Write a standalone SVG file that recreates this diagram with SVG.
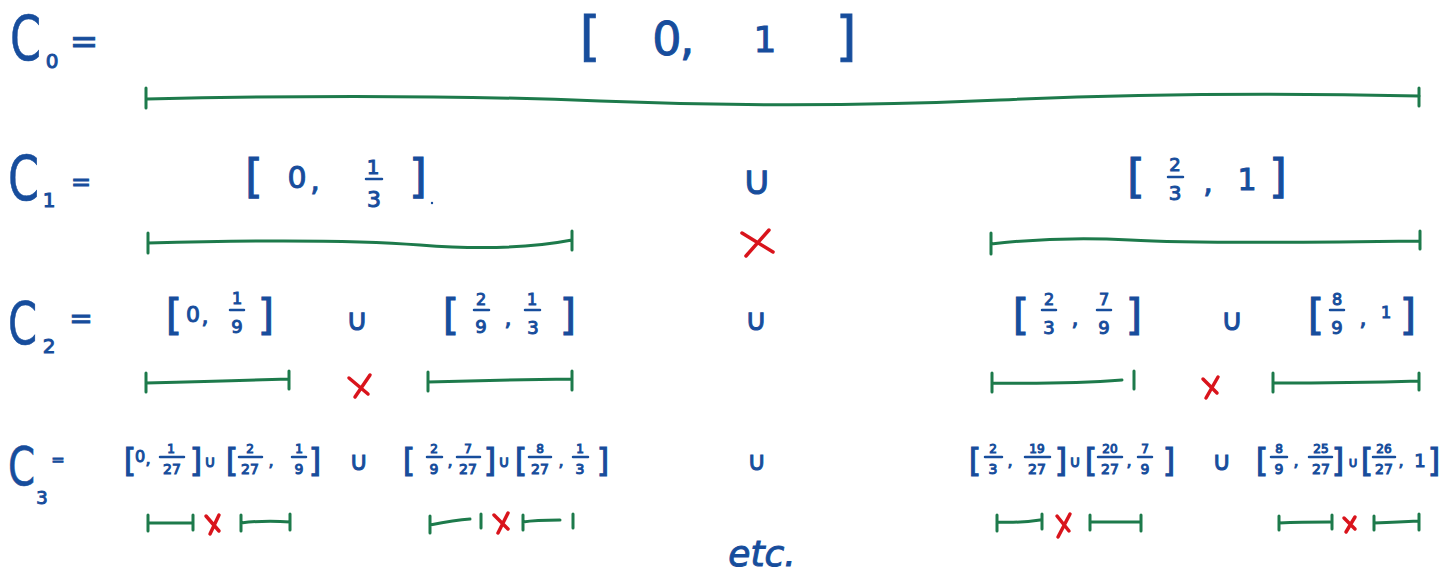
<svg xmlns="http://www.w3.org/2000/svg" width="1455" height="582" viewBox="0 0 1455 582">
<style>
.t{font-family:"DejaVu Sans","Liberation Sans",sans-serif;fill:#174d9c;stroke:#174d9c;stroke-width:1;text-anchor:middle}
.c{font-family:"DejaVu Sans","Liberation Sans",sans-serif;fill:#174d9c;stroke:#174d9c;stroke-width:0.6;text-anchor:start}
.fb{stroke:#174d9c;stroke-width:2.5;stroke-linecap:round}
.g{stroke:#1d7a4b;stroke-width:3;fill:none;stroke-linecap:round}
.x{stroke:#d9141c;stroke-width:3.5;stroke-linecap:round}
</style>
<rect width="1455" height="582" fill="#ffffff"/>

<g id="c0-label">
<text class="c" transform="translate(10,60) scale(0.72,1)" font-size="62">C</text>
<text class="t" x="52" y="68" font-size="20">0</text>
<text class="t" x="84" y="53" font-size="34">=</text>
</g>
<g id="c0-interval">
<text class="t" x="590" y="55" font-size="53">[</text>
<text class="t" x="667" y="55" font-size="46">0</text>
<text class="t" x="687" y="55" font-size="46">,</text>
<text class="t" x="765" y="52" font-size="36">1</text>
<text class="t" x="846" y="55" font-size="53">]</text>
</g>

<g id="c1-label">
<text class="c" transform="translate(8,200) scale(0.72,1)" font-size="62">C</text>
<text class="t" x="49" y="207" font-size="20">1</text>
<text class="t" x="81" y="190" font-size="24">=</text>
</g>
<g id="c1-left">
<text class="t" x="254" y="192" font-size="46">[</text>
<text class="t" x="297" y="188" font-size="30">0</text>
<text class="t" x="315" y="190" font-size="30">,</text>
<text class="t" x="373" y="174" font-size="20">1</text>
<line class="fb" x1="366" y1="179" x2="382" y2="179"/>
<text class="t" x="374" y="207" font-size="22">3</text>
<text class="t" x="418" y="192" font-size="46">]</text>
<circle cx="432" cy="203" r="1.2" fill="#174d9c"/>
</g>
<text class="t" x="757" y="194" font-size="40">∪</text>
<g id="c1-right">
<text class="t" x="1136" y="192" font-size="46">[</text>
<text class="t" x="1175" y="171" font-size="18">2</text>
<line class="fb" x1="1168" y1="177" x2="1183" y2="177"/>
<text class="t" x="1175" y="200" font-size="20">3</text>
<text class="t" x="1208" y="192" font-size="30">,</text>
<text class="t" x="1247" y="190" font-size="30">1</text>
<text class="t" x="1278" y="192" font-size="46">]</text>
</g>

<g id="c2-label">
<text class="c" transform="translate(8,344) scale(0.72,1)" font-size="58">C</text>
<text class="t" x="49" y="353" font-size="20">2</text>
<text class="t" x="81" y="328" font-size="28">=</text>
</g>
<g id="c2-a">
<text class="t" x="174" y="330" font-size="42">[</text>
<text class="t" x="193" y="322" font-size="22">0</text>
<text class="t" x="205" y="324" font-size="22">,</text>
<text class="t" x="237" y="304" font-size="16">1</text>
<line class="fb" x1="230" y1="310" x2="244" y2="310"/>
<text class="t" x="237" y="333" font-size="18">9</text>
<text class="t" x="266" y="330" font-size="42">]</text>
</g>
<text class="t" x="357" y="330" font-size="30">∪</text>
<g id="c2-b">
<text class="t" x="451" y="330" font-size="42">[</text>
<text class="t" x="481" y="305" font-size="16">2</text>
<line class="fb" x1="474" y1="310" x2="489" y2="310"/>
<text class="t" x="481" y="333" font-size="18">9</text>
<text class="t" x="508" y="326" font-size="22">,</text>
<text class="t" x="532" y="305" font-size="16">1</text>
<line class="fb" x1="525" y1="310" x2="540" y2="310"/>
<text class="t" x="533" y="334" font-size="18">3</text>
<text class="t" x="568" y="330" font-size="42">]</text>
</g>
<text class="t" x="756" y="330" font-size="30">∪</text>
<g id="c2-c">
<text class="t" x="1021" y="330" font-size="42">[</text>
<text class="t" x="1049" y="305" font-size="16">2</text>
<line class="fb" x1="1042" y1="310" x2="1056" y2="310"/>
<text class="t" x="1049" y="334" font-size="18">3</text>
<text class="t" x="1075" y="326" font-size="22">,</text>
<text class="t" x="1104" y="305" font-size="16">7</text>
<line class="fb" x1="1097" y1="310" x2="1111" y2="310"/>
<text class="t" x="1104" y="334" font-size="18">9</text>
<text class="t" x="1134" y="330" font-size="42">]</text>
</g>
<text class="t" x="1232" y="330" font-size="30">∪</text>
<g id="c2-d">
<text class="t" x="1316" y="330" font-size="42">[</text>
<text class="t" x="1337" y="305" font-size="16">8</text>
<line class="fb" x1="1330" y1="310" x2="1344" y2="310"/>
<text class="t" x="1337" y="334" font-size="18">9</text>
<text class="t" x="1363" y="326" font-size="22">,</text>
<text class="t" x="1386" y="318" font-size="16">1</text>
<text class="t" x="1408" y="330" font-size="42">]</text>
</g>

<g id="c3-label">
<text class="c" transform="translate(8,485) scale(0.72,1)" font-size="54">C</text>
<text class="t" x="42" y="504" font-size="18">3</text>
<text class="t" x="58" y="465" font-size="16">=</text>
</g>
<g id="c3-a">
<text class="t" x="130" y="471" font-size="32">[</text>
<text class="t" x="140" y="462" font-size="16">0</text>
<text class="t" x="148" y="464" font-size="16">,</text>
<text class="t" x="171" y="453" font-size="12">1</text>
<line class="fb" x1="160" y1="457" x2="184" y2="457"/>
<text class="t" x="172" y="474" font-size="14">27</text>
<text class="t" x="196" y="471" font-size="32">]</text>
<text class="t" x="210" y="467" font-size="16">∪</text>
<text class="t" x="232" y="471" font-size="32">[</text>
<text class="t" x="250" y="453" font-size="12">2</text>
<line class="fb" x1="239" y1="457" x2="262" y2="457"/>
<text class="t" x="250" y="474" font-size="14">27</text>
<text class="t" x="271" y="466" font-size="16">,</text>
<text class="t" x="299" y="453" font-size="12">1</text>
<line class="fb" x1="292" y1="457" x2="306" y2="457"/>
<text class="t" x="299" y="474" font-size="14">9</text>
<text class="t" x="315" y="471" font-size="32">]</text>
</g>
<text class="t" x="359" y="470" font-size="26">∪</text>
<g id="c3-b">
<text class="t" x="409" y="471" font-size="32">[</text>
<text class="t" x="434" y="453" font-size="12">2</text>
<line class="fb" x1="427" y1="457" x2="442" y2="457"/>
<text class="t" x="434" y="474" font-size="14">9</text>
<text class="t" x="450" y="466" font-size="16">,</text>
<text class="t" x="468" y="453" font-size="12">7</text>
<line class="fb" x1="457" y1="457" x2="480" y2="457"/>
<text class="t" x="468" y="474" font-size="14">27</text>
<text class="t" x="490" y="471" font-size="32">]</text>
<text class="t" x="504" y="467" font-size="16">∪</text>
<text class="t" x="521" y="471" font-size="32">[</text>
<text class="t" x="540" y="453" font-size="12">8</text>
<line class="fb" x1="529" y1="457" x2="551" y2="457"/>
<text class="t" x="540" y="474" font-size="14">27</text>
<text class="t" x="561" y="466" font-size="16">,</text>
<text class="t" x="580" y="453" font-size="12">1</text>
<line class="fb" x1="573" y1="457" x2="588" y2="457"/>
<text class="t" x="580" y="474" font-size="14">3</text>
<text class="t" x="603" y="471" font-size="32">]</text>
</g>
<text class="t" x="757" y="470" font-size="26">∪</text>
<g id="c3-c">
<text class="t" x="975" y="471" font-size="32">[</text>
<text class="t" x="993" y="453" font-size="12">2</text>
<line class="fb" x1="985" y1="457" x2="1002" y2="457"/>
<text class="t" x="993" y="474" font-size="14">3</text>
<text class="t" x="1010" y="466" font-size="16">,</text>
<text class="t" x="1037" y="453" font-size="12">19</text>
<line class="fb" x1="1025" y1="457" x2="1050" y2="457"/>
<text class="t" x="1037" y="474" font-size="14">27</text>
<text class="t" x="1061" y="471" font-size="32">]</text>
<text class="t" x="1075" y="467" font-size="16">∪</text>
<text class="t" x="1091" y="471" font-size="32">[</text>
<text class="t" x="1110" y="453" font-size="12">20</text>
<line class="fb" x1="1098" y1="457" x2="1122" y2="457"/>
<text class="t" x="1110" y="474" font-size="14">27</text>
<text class="t" x="1129" y="466" font-size="16">,</text>
<text class="t" x="1145" y="453" font-size="12">7</text>
<line class="fb" x1="1138" y1="457" x2="1152" y2="457"/>
<text class="t" x="1145" y="474" font-size="14">9</text>
<text class="t" x="1169" y="471" font-size="32">]</text>
</g>
<text class="t" x="1222" y="470" font-size="26">∪</text>
<g id="c3-d">
<text class="t" x="1262" y="471" font-size="32">[</text>
<text class="t" x="1279" y="453" font-size="12">8</text>
<line class="fb" x1="1271" y1="457" x2="1287" y2="457"/>
<text class="t" x="1279" y="474" font-size="14">9</text>
<text class="t" x="1296" y="466" font-size="16">,</text>
<text class="t" x="1321" y="453" font-size="12">25</text>
<line class="fb" x1="1309" y1="457" x2="1332" y2="457"/>
<text class="t" x="1321" y="474" font-size="14">27</text>
<text class="t" x="1338" y="471" font-size="32">]</text>
<text class="t" x="1353" y="467" font-size="14">∪</text>
<text class="t" x="1367" y="471" font-size="32">[</text>
<text class="t" x="1384" y="453" font-size="12">26</text>
<line class="fb" x1="1373" y1="457" x2="1395" y2="457"/>
<text class="t" x="1384" y="474" font-size="14">27</text>
<text class="t" x="1401" y="466" font-size="16">,</text>
<text class="t" x="1420" y="467" font-size="18">1</text>
<text class="t" x="1434" y="471" font-size="32">]</text>
</g>

<text class="t" x="762" y="566" font-size="36" font-style="italic">etc.</text>

<g id="connectors">
<path class="g" d="M147,99 Q400,93 600,101 T1000,100 T1419,96"/>
<path class="g" d="M146,88 V108 M1419,88 V106"/>
<path class="g" d="M148,243 Q330,238 420,245 T572,240 M148,233 V253 M572,231 V250"/>
<path class="g" d="M991,244 Q1060,236 1130,240 T1420,241 M991,233 V254 M1420,231 V249"/>
<path class="g" d="M146,383 Q230,381 289,379 M146,373 V392 M289,371 V389"/>
<path class="g" d="M428,382 Q500,380 572,379 M428,372 V391 M572,371 V390"/>
<path class="g" d="M992,383 Q1070,384 1122,380 M992,373 V392 M1134,371 V389"/>
<path class="g" d="M1273,383 Q1350,383 1419,381 M1273,373 V392 M1419,373 V390"/>
<path class="g" d="M148,523 H193 M148,515 V531 M193,515 V530"/>
<path class="g" d="M241,523 Q265,520 290,522 M241,515 V531 M290,514 V530"/>
<path class="g" d="M430,525 Q455,520 470,519 M430,516 V533 M481,514 V528"/>
<path class="g" d="M523,522 Q535,520 560,520 M523,515 V530 M573,514 V528"/>
<path class="g" d="M997,522 Q1020,523 1040,520 M997,515 V531 M1042,514 V529"/>
<path class="g" d="M1090,522 H1141 M1090,515 V530 M1141,515 V531"/>
<path class="g" d="M1279,523 Q1300,522 1330,522 M1279,516 V530 M1332,515 V529"/>
<path class="g" d="M1374,523 Q1400,522 1418,521 M1374,516 V530 M1419,514 V530"/>
</g>

<g id="removed">
<path class="x" d="M742,233 L773,252 M769,230 L746,256"/>
<path class="x" d="M349,378 L368,394 M370,375 L355,397"/>
<path class="x" d="M1203,379 L1217,393 M1218,377 L1206,398"/>
<path class="x" d="M206,516 L219,531 M219,515 L210,534"/>
<path class="x" d="M494,515 L508,529 M508,513 L498,533"/>
<path class="x" d="M1057,516 L1069,531 M1070,514 L1058,537"/>
<path class="x" d="M1344,518 L1355,529 M1355,517 L1346,532"/>
</g>
</svg>
